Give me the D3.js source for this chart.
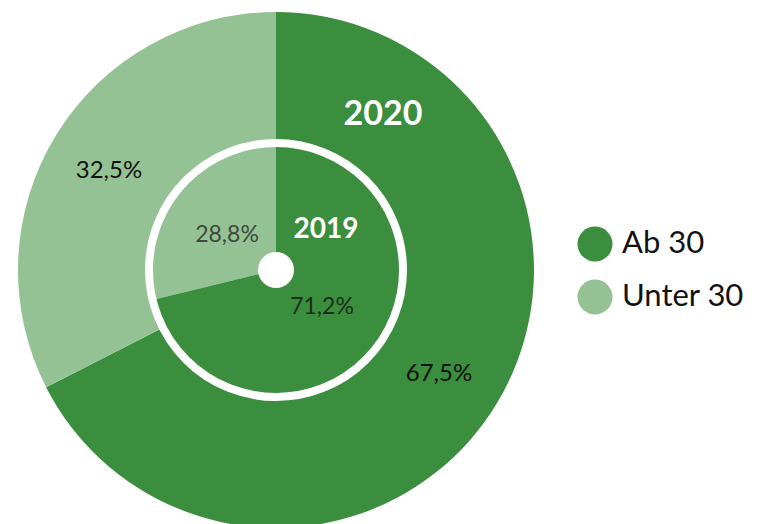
<!DOCTYPE html>
<html>
<head>
<meta charset="utf-8">
<script src="https://cdn.jsdelivr.net/npm/d3@7"></script>
<style>
  html, body { margin: 0; padding: 0; background: #ffffff; }
  svg { display: block; font-family: Lato, "Open Sans", sans-serif; }
</style>
</head>
<body>
<svg id="chart" width="767" height="524"></svg>
<script>
// Age groups and their shares (%) per year
const categories = ["Ab 30", "Unter 30"];
const values2020 = [67.5, 32.5];
const values2019 = [71.2, 28.8];
const labels2020 = ["67,5%", "32,5%"];
const labels2019 = ["71,2%", "28,8%"];
const colors = ["#3a8e3d", "#94c294"];

const svg = d3.select("#chart");
const cx = 276, cy = 270;
const outerR = 258, innerR = 124, ringW = 8, holeR = 18;

const color = d3.scaleOrdinal().domain(categories).range(colors);
const pie = d3.pie().sort(null).value(d => d.v);

const data2020 = pie(categories.map((c, i) => ({ c, v: values2020[i], label: labels2020[i] })));
const data2019 = pie(categories.map((c, i) => ({ c, v: values2019[i], label: labels2019[i] })));

const g = svg.append("g").attr("transform", `translate(${cx},${cy})`);

// outer ring: 2020
const arcOuter = d3.arc().innerRadius(0).outerRadius(outerR);
g.selectAll("path.y2020").data(data2020).join("path")
  .attr("class", "y2020")
  .attr("d", arcOuter)
  .attr("fill", d => color(d.data.c));

// inner pie: 2019
const arcInner = d3.arc().innerRadius(0).outerRadius(innerR);
g.selectAll("path.y2019").data(data2019).join("path")
  .attr("class", "y2019")
  .attr("d", arcInner)
  .attr("fill", d => color(d.data.c));

// white separator ring and centre hole
g.append("circle").attr("r", innerR + ringW / 2 - 1)
  .attr("fill", "none").attr("stroke", "#fff").attr("stroke-width", ringW);
g.append("circle").attr("r", holeR).attr("fill", "#fff");

// value labels, 2020
const outerLabelPos = [[163, 105], [-167, -98]];
g.selectAll("text.l2020").data(data2020).join("text")
  .attr("class", "l2020")
  .attr("x", (d, i) => outerLabelPos[i][0])
  .attr("y", (d, i) => outerLabelPos[i][1])
  .attr("text-anchor", "middle").attr("dominant-baseline", "middle")
  .attr("font-size", 24).attr("fill", "#111")
  .text(d => d.data.label);

// value labels, 2019
const innerLabelPos = [[46, 38], [-49, -34]];
const innerLabelColors = ["#1c2e1c", "#3f4a3f"];
g.selectAll("text.l2019").data(data2019).join("text")
  .attr("class", "l2019")
  .attr("x", (d, i) => innerLabelPos[i][0])
  .attr("y", (d, i) => innerLabelPos[i][1])
  .attr("text-anchor", "middle").attr("dominant-baseline", "middle")
  .attr("font-size", 23).attr("fill", (d, i) => innerLabelColors[i])
  .text(d => d.data.label);

// year titles
g.append("text").attr("x", 107).attr("y", -154)
  .attr("text-anchor", "middle").attr("dominant-baseline", "middle")
  .attr("font-size", 34).attr("font-weight", 700).attr("fill", "#fff")
  .text("2020");
g.append("text").attr("x", 50).attr("y", -39)
  .attr("text-anchor", "middle").attr("dominant-baseline", "middle")
  .attr("font-size", 28).attr("font-weight", 700).attr("fill", "#fff")
  .text("2019");

// legend
const legend = svg.append("g").attr("transform", "translate(595,244)");
const item = legend.selectAll("g").data(categories).join("g")
  .attr("transform", (d, i) => `translate(0,${i * 53})`);
item.append("circle").attr("r", 17.5).attr("fill", d => color(d));
item.append("text").attr("x", 27).attr("y", 1)
  .attr("dominant-baseline", "middle")
  .attr("font-size", 31).attr("fill", "#111")
  .text(d => d);
</script>
</body>
</html>
